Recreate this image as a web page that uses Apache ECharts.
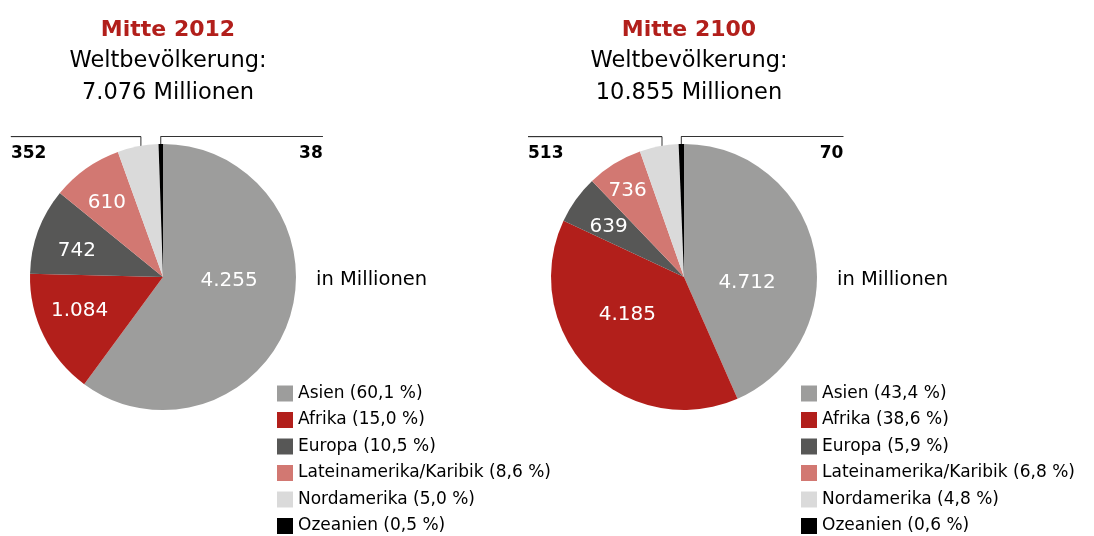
<!DOCTYPE html>
<html>
<head>
<meta charset="utf-8">
<script src="https://cdn.jsdelivr.net/npm/echarts@6/dist/echarts.min.js"></script>
<style>
  html, body { margin: 0; padding: 0; background: #fff; }
  #chart { width: 1094px; height: 536px; }
</style>
</head>
<body>
<div id="chart"></div>
<script>
// Weltbevölkerung nach Regionen, in Millionen
var regions = ['Asien', 'Afrika', 'Europa', 'Lateinamerika/Karibik', 'Nordamerika', 'Ozeanien'];
var values2012 = [4255, 1084, 742, 610, 352, 38];
var values2100 = [4712, 4185, 639, 736, 513, 70];
var shares2012 = [60.1, 15.0, 10.5, 8.6, 5.0, 0.5];
var shares2100 = [43.4, 38.6, 5.9, 6.8, 4.8, 0.6];
var titles = ['Mitte 2012', 'Mitte 2100'];
var totals = ['7.076', '10.855'];

var colors = ['#9d9d9c', '#b21f1b', '#575756', '#d27872', '#dadada', '#000000'];
var FONT = 'DejaVu Sans';
var LINE = '#333333';

// kleine Verschiebungen der Innenbeschriftungen (dx, dy)
var nudges = [
    [[0, -18], [-21, 3], [-21, -2], [-16, -18]],
    [[-5, 20], [-7, -11], [-19, -10], [-20, -27]]
];
var centersX = [163, 684];
var legendLeft = [277, 801];
var hrWidths = [[130, 162], [134, 162]];

function fmt(v) {
    return String(v).replace(/\B(?=(\d{3})+(?!\d))/g, '.');
}
function pct(v) {
    return v.toFixed(1).replace('.', ',');
}

function makeSeries(k, values) {
    var nudge = nudges[k];
    return {
        type: 'pie',
        center: [centersX[k], 277],
        radius: 133,
        startAngle: 90,
        clockwise: true,
        silent: true,
        avoidLabelOverlap: false,
        itemStyle: { borderWidth: 0 },
        label: {
            position: 'inside',
            color: '#fff',
            fontSize: 20,
            fontFamily: FONT,
            formatter: function (p) {
                if (p.dataIndex === 4) return '{hrA|}\n{vA|' + fmt(p.value) + '}';
                if (p.dataIndex === 5) return '{hrB|}\n{vB|' + fmt(p.value) + '}';
                return fmt(p.value);
            },
            rich: {
                hrA: { width: hrWidths[k][0], height: 0, borderColor: LINE, borderWidth: 1 },
                hrB: { width: hrWidths[k][1], height: 0, borderColor: LINE, borderWidth: 1 },
                vA: { align: 'left', fontSize: 17, fontWeight: 'bold', color: '#000', lineHeight: 34, fontFamily: FONT },
                vB: { align: 'right', fontSize: 17, fontWeight: 'bold', color: '#000', lineHeight: 34, fontFamily: FONT }
            }
        },
        labelLine: { show: false },
        labelLayout: function (p) {
            var i = p.dataIndex;
            if (i < 4) return { dx: nudge[i][0], dy: nudge[i][1] };
            var pts = p.labelLinePoints;
            if (!pts) return {};
            var x = pts[0][0] + (i === 4 ? 3 : 0);
            var top = p.rect.y - 7.5;
            return {
                x: x,
                y: top,
                align: i === 4 ? 'right' : 'left',
                verticalAlign: 'top',
                labelLinePoints: [[x, pts[0][1] + 10], [x, top]]
            };
        },
        data: regions.map(function (name, i) {
            var d = { name: name, value: values[i] };
            if (i >= 4) {
                d.label = { position: 'outside' };
                d.labelLine = { show: true, length: 8, length2: 0, lineStyle: { color: LINE, width: 1 } };
            }
            return d;
        })
    };
}

function makeLegend(k, shares) {
    return {
        orient: 'vertical',
        left: legendLeft[k],
        top: 385,
        padding: 0,
        data: regions,
        icon: 'rect',
        itemWidth: 16,
        itemHeight: 16,
        itemGap: 9.5,
        selectedMode: false,
        textStyle: { fontSize: 17, color: '#000', lineHeight: 16, fontFamily: FONT },
        formatter: function (name) {
            return name + ' (' + pct(shares[regions.indexOf(name)]) + ' %)';
        }
    };
}

function makeTitle(k) {
    return {
        text: titles[k],
        subtext: 'Weltbevölkerung:\n' + totals[k] + ' Millionen',
        left: centersX[k],
        top: 10,
        textAlign: 'center',
        itemGap: 0,
        textStyle: { color: '#b21f1b', fontSize: 22, fontWeight: 'bold', lineHeight: 30, fontFamily: FONT },
        subtextStyle: { color: '#000', fontSize: 22.5, lineHeight: 32, fontFamily: FONT }
    };
}

var chart = echarts.init(document.getElementById('chart'));
chart.setOption({
    animation: false,
    color: colors,
    textStyle: { fontFamily: FONT },
    title: [makeTitle(0), makeTitle(1)],
    legend: [makeLegend(0, shares2012), makeLegend(1, shares2100)],
    graphic: centersX.map(function (cx) {
        return {
            type: 'text',
            left: cx + 153,
            top: 270,
            style: { text: 'in Millionen', fontSize: 19.5, fill: '#000', fontFamily: FONT }
        };
    }),
    series: [makeSeries(0, values2012), makeSeries(1, values2100)]
});
</script>
</body>
</html>
